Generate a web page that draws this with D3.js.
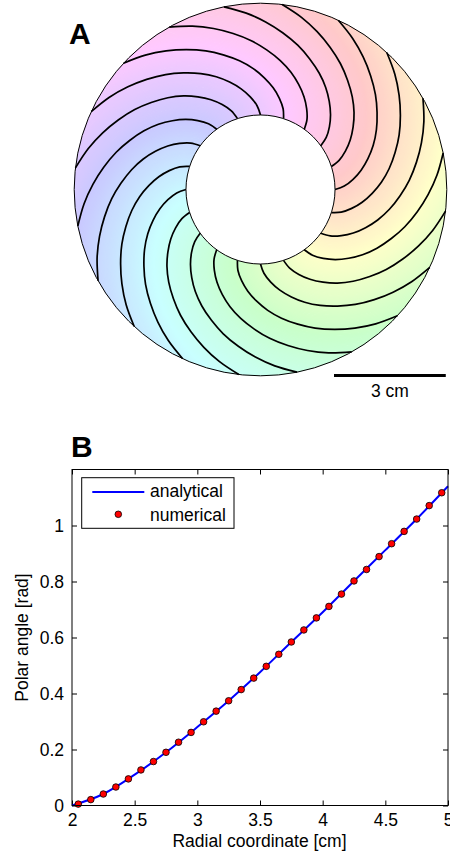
<!DOCTYPE html>
<html>
<head>
<meta charset="utf-8">
<script src="https://cdn.jsdelivr.net/npm/d3@7"></script>
<style>
  html, body { margin: 0; padding: 0; background: #fff; }
  svg { display: block; }
  text { font-family: "Liberation Sans", Arial, Helvetica, sans-serif; fill: #000; }
</style>
</head>
<body>
<svg id="chart" width="450" height="854"></svg>
<script>
// ---------------- DATA ----------------
const analyticalR     = [2.0, 2.25, 2.5, 2.75, 3.0, 3.25, 3.5, 3.75, 4.0, 4.25, 4.5, 4.75, 5.0];
const analyticalTheta = [0.0, 0.041, 0.110, 0.190, 0.280, 0.374, 0.476, 0.584, 0.690, 0.802, 0.912, 1.023, 1.140];

const numericalR = [2.05, 2.15, 2.25, 2.35, 2.45, 2.55, 2.65, 2.75, 2.85, 2.95,
                    3.05, 3.15, 3.25, 3.35, 3.45, 3.55, 3.65, 3.75, 3.85, 3.95,
                    4.05, 4.15, 4.25, 4.35, 4.45, 4.55, 4.65, 4.75, 4.85, 4.95];
const numericalTheta = [0.005, 0.021, 0.041, 0.066, 0.095, 0.127, 0.157, 0.190, 0.226, 0.261,
                        0.299, 0.337, 0.374, 0.414, 0.455, 0.497, 0.540, 0.584, 0.627, 0.670,
                        0.711, 0.755, 0.802, 0.843, 0.889, 0.935, 0.979, 1.023, 1.071, 1.117];

const xTicks = [2, 2.5, 3, 3.5, 4, 4.5, 5];
const xTickLabels = ["2", "2.5", "3", "3.5", "4", "4.5", "5"];
const yTicks = [0, 0.2, 0.4, 0.6, 0.8, 1];
const yTickLabels = ["0", "0.2", "0.4", "0.6", "0.8", "1"];

const innerRadiusCm = 2;
const outerRadiusCm = 5;
const spiralCount = 20;
const scaleBarCm = 3;
const scaleBarLabel = "3 cm";
const legendLabels = ["analytical", "numerical"];
const xLabel = "Radial coordinate [cm]";
const yLabel = "Polar angle [rad]";

// ---------------- SETUP ----------------
const svg = d3.select("#chart");
const FS = 17.5;
const pts = analyticalR.map((r, i) => ({ r, theta: analyticalTheta[i] }));

// ---------------- PANEL A ----------------
const cx = 260.5, cy = 189.5;
const rScale = d3.scaleLinear().domain([0, outerRadiusCm]).range([0, 186.3]);
const gA = svg.append("g").attr("transform", `translate(${cx},${cy})`);

// colored strips, colour set by the starting angle of the spiral
const nStrips = 360;
const stripArea = (a0, a1) => d3.areaRadial()
  .startAngle(d => Math.PI / 2 - (a0 + d.theta))
  .endAngle(d => Math.PI / 2 - (a1 + d.theta))
  .radius(d => rScale(d.r))
  .curve(d3.curveCatmullRom);

const hueOf = deg => ((368 - deg) % 360 + 360) % 360;
for (let k = 0; k < nStrips; k++) {
  const d0 = k * 360 / nStrips;
  const a0 = d0 * Math.PI / 180;
  const a1 = (d0 + 1.6) * Math.PI / 180;
  gA.append("path")
    .attr("d", stripArea(a0, a1)(pts))
    .attr("fill", d3.hsl(hueOf(d0 + 0.5), 1, 0.895).formatHex());
}

// spiral contour lines
const spiralLine = a0 => d3.lineRadial()
  .angle(d => Math.PI / 2 - (a0 + d.theta))
  .radius(d => rScale(d.r))
  .curve(d3.curveCatmullRom);
for (let k = 0; k < spiralCount; k++) {
  const a0 = k * 2 * Math.PI / spiralCount;
  gA.append("path")
    .attr("d", spiralLine(a0)(pts))
    .attr("fill", "none")
    .attr("stroke", "#000")
    .attr("stroke-width", 1.7);
}

gA.append("circle").attr("r", rScale(innerRadiusCm))
  .attr("fill", "#fff").attr("stroke", "#000").attr("stroke-width", 1);
gA.append("circle").attr("r", rScale(outerRadiusCm))
  .attr("fill", "none").attr("stroke", "#000").attr("stroke-width", 1);

svg.append("text").attr("x", 69).attr("y", 44)
  .attr("font-size", 30).attr("font-weight", "bold").text("A");

// scale bar
const sbX0 = 334, sbY = 375.5;
svg.append("line")
  .attr("x1", sbX0).attr("x2", sbX0 + rScale(scaleBarCm))
  .attr("y1", sbY).attr("y2", sbY)
  .attr("stroke", "#000").attr("stroke-width", 3);
svg.append("text").attr("x", sbX0 + rScale(scaleBarCm) / 2).attr("y", 397)
  .attr("text-anchor", "middle").attr("font-size", FS).text(scaleBarLabel);

// ---------------- PANEL B ----------------
svg.append("text").attr("x", 71).attr("y", 457)
  .attr("font-size", 30).attr("font-weight", "bold").text("B");

const L = 72, R = 448, T = 469.5, B = 805.5;
const x = d3.scaleLinear().domain([2, 5]).range([L, R]);
const y = d3.scaleLinear().domain([0, 1.2]).range([B, T]);
const tick = 5;

const gB = svg.append("g");
const fmtX = d => xTickLabels[xTicks.indexOf(d)];
const fmtY = d => yTickLabels[yTicks.indexOf(d)];

const axB = gB.append("g").attr("transform", `translate(0,${B})`)
  .call(d3.axisBottom(x).tickValues(xTicks).tickFormat(fmtX).tickSizeInner(-tick).tickSizeOuter(0).tickPadding(8.5));
const axT = gB.append("g").attr("transform", `translate(0,${T})`)
  .call(d3.axisTop(x).tickValues(xTicks).tickFormat("").tickSizeInner(-tick).tickSizeOuter(0));
const axL = gB.append("g").attr("transform", `translate(${L},0)`)
  .call(d3.axisLeft(y).tickValues(yTicks).tickFormat(fmtY).tickSizeInner(-tick).tickSizeOuter(0).tickPadding(8));
const axR = gB.append("g").attr("transform", `translate(${R},0)`)
  .call(d3.axisRight(y).tickValues(yTicks).tickFormat("").tickSizeInner(-tick).tickSizeOuter(0));

[axB, axT, axL, axR].forEach(a => {
  a.select(".domain").remove();
  a.selectAll("line").attr("stroke", "#000").attr("stroke-width", 1);
  a.selectAll("text").attr("font-size", FS).attr("font-family", "Liberation Sans, Arial, sans-serif").attr("fill", "#000");
});

// analytical line
gB.append("path")
  .attr("d", d3.line().x(d => x(d.r)).y(d => y(d.theta)).curve(d3.curveMonotoneX)(pts))
  .attr("fill", "none").attr("stroke", "#0000ff").attr("stroke-width", 2);

// numerical points
gB.selectAll("circle.num")
  .data(numericalR.map((r, i) => ({ r, theta: numericalTheta[i] })))
  .join("circle").attr("class", "num")
  .attr("cx", d => x(d.r)).attr("cy", d => y(d.theta)).attr("r", 3.3)
  .attr("fill", "#ff0000").attr("stroke", "#000").attr("stroke-width", 0.8);

// box
gB.append("rect").attr("x", L).attr("y", T).attr("width", R - L).attr("height", B - T)
  .attr("fill", "none").attr("stroke", "#000").attr("stroke-width", 1);

// legend
const lg = gB.append("g");
lg.append("rect").attr("x", 81.7).attr("y", 477.7).attr("width", 152.3).attr("height", 50.6)
  .attr("fill", "#fff").attr("stroke", "#000").attr("stroke-width", 1);
lg.append("line").attr("x1", 92.3).attr("x2", 144.3).attr("y1", 492).attr("y2", 492)
  .attr("stroke", "#0000ff").attr("stroke-width", 2);
lg.append("circle").attr("cx", 118.3).attr("cy", 514.3).attr("r", 3.3)
  .attr("fill", "#ff0000").attr("stroke", "#000").attr("stroke-width", 0.8);
lg.append("text").attr("x", 150).attr("y", 497).attr("font-size", FS).text(legendLabels[0]);
lg.append("text").attr("x", 150).attr("y", 521).attr("font-size", FS).text(legendLabels[1]);

// axis labels
svg.append("text").attr("x", (L + R) / 2 - 0.5).attr("y", 846.5)
  .attr("text-anchor", "middle").attr("font-size", FS).text(xLabel);
svg.append("text").attr("transform", `translate(28,${(T + B) / 2}) rotate(-90)`)
  .attr("text-anchor", "middle").attr("font-size", FS).text(yLabel);
</script>
</body>
</html>
